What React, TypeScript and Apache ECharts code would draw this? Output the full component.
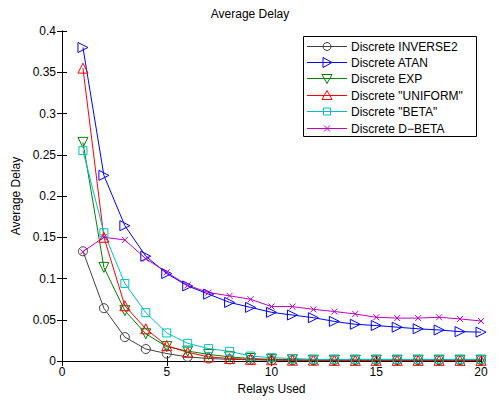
import React, { useEffect, useRef } from "react";
import * as echarts from "echarts";

const relays = [1, 2, 3, 4, 5, 6, 7, 8, 9, 10, 11, 12, 13, 14, 15, 16, 17, 18, 19, 20];
const inverse2 = [0.133, 0.064, 0.029, 0.0145, 0.009, 0.005, 0.003, 0.002, 0.0015, 0.001, 0.001, 0.001, 0.001, 0.001, 0.001, 0.001, 0.001, 0.001, 0.001, 0.001];
const atan = [0.38, 0.225, 0.164, 0.127, 0.106, 0.091, 0.081, 0.071, 0.065, 0.059, 0.0557, 0.0525, 0.048, 0.0445, 0.043, 0.041, 0.039, 0.0376, 0.0356, 0.035];
const expo = [0.265, 0.1135, 0.061, 0.033, 0.0174, 0.012, 0.008, 0.005, 0.003, 0.002, 0.0015, 0.001, 0.001, 0.001, 0.001, 0.001, 0.001, 0.001, 0.001, 0.001];
const uniform = [0.355, 0.15, 0.067, 0.039, 0.0186, 0.0105, 0.005, 0.003, 0.002, 0.0015, 0.001, 0.001, 0.0008, 0.0008, 0.0008, 0.0008, 0.0008, 0.0008, 0.0008, 0.0008];
const beta = [0.255, 0.1555, 0.094, 0.0586, 0.034, 0.0214, 0.015, 0.0117, 0.006, 0.004, 0.003, 0.002, 0.002, 0.002, 0.002, 0.002, 0.002, 0.002, 0.002, 0.002];
const dbeta = [0.1325, 0.15, 0.1467, 0.124, 0.1075, 0.0917, 0.083, 0.079, 0.0748, 0.066, 0.066, 0.0626, 0.06, 0.057, 0.053, 0.052, 0.052, 0.053, 0.051, 0.0485];
const seriesNames = ["Discrete INVERSE2", "Discrete ATAN", "Discrete EXP", 'Discrete "UNIFORM"', 'Discrete "BETA"', "Discrete D−BETA"];
const xTicks = [0, 5, 10, 15, 20];

const FONT = "Liberation Sans";
const xMark = "path://M0,0L10,10M10,0L0,10";

export default function App() {
  const ref = useRef<HTMLDivElement>(null);
  useEffect(() => {
    const chart = echarts.init(ref.current!, null, { renderer: "svg" });
    const specs = [
      { name: seriesNames[0], data: inverse2, color: "#404040", symbol: "circle", rotate: 0, size: 9, kind: "circle" },
      { name: seriesNames[1], data: atan, color: "#0000ff", symbol: "triangle", rotate: -90, size: 10, kind: "right" },
      { name: seriesNames[2], data: expo, color: "#008000", symbol: "triangle", rotate: 180, size: 10, kind: "down" },
      { name: seriesNames[3], data: uniform, color: "#ff0000", symbol: "triangle", rotate: 0, size: 10, kind: "up" },
      { name: seriesNames[4], data: beta, color: "#00bfbf", symbol: "rect", rotate: 0, size: 8, kind: "rect" },
      { name: seriesNames[5], data: dbeta, color: "#bf00bf", symbol: xMark, rotate: 0, size: 6, kind: "x" },
    ];
    const series = specs.map((s) => ({
      name: s.name,
      type: "line",
      data: relays.map((r, i) => [r, s.data[i]]),
      symbol: s.symbol,
      symbolRotate: s.rotate,
      symbolSize: s.size,
      showAllSymbol: true,
      lineStyle: { color: s.color, width: 1 },
      itemStyle: { color: "none", borderColor: s.color, borderWidth: 1 },
      emphasis: { disabled: true },
      z: 3,
    }));

    // hand-drawn MATLAB-style legend
    const lgLeft = 303, lgTop = 36, lgW = 173, lgH = 100;
    const row0 = 45.5, rowStep = 16.4;
    const lx0 = 307, lx1 = 347, sx = 327, tx = 351;
    const legendEls: any[] = [
      {
        type: "rect",
        shape: { x: lgLeft + 0.5, y: lgTop + 0.5, width: lgW, height: lgH },
        style: { fill: "#fff", stroke: "#000", lineWidth: 1 },
        z: 10,
      },
    ];
    specs.forEach((s, i) => {
      const cy = Math.round(row0 + i * rowStep) + 0.5;
      const st = { fill: "none", stroke: s.color, lineWidth: 1 };
      legendEls.push({ type: "line", shape: { x1: lx0, y1: cy, x2: lx1, y2: cy }, style: { stroke: s.color, lineWidth: 1 }, z: 11 });
      let sym: any;
      if (s.kind === "circle") sym = { type: "circle", shape: { cx: sx, cy, r: 4 }, style: st };
      else if (s.kind === "right") sym = { type: "polygon", shape: { points: [[sx - 4, cy - 5], [sx + 5, cy], [sx - 4, cy + 5]] }, style: st };
      else if (s.kind === "down") sym = { type: "polygon", shape: { points: [[sx - 5, cy - 4], [sx + 5, cy - 4], [sx, cy + 5]] }, style: st };
      else if (s.kind === "up") sym = { type: "polygon", shape: { points: [[sx - 5, cy + 4], [sx + 5, cy + 4], [sx, cy - 5]] }, style: st };
      else if (s.kind === "rect") sym = { type: "rect", shape: { x: sx - 3.5, y: cy - 3.5, width: 7, height: 7 }, style: st };
      else sym = {
        type: "group",
        children: [
          { type: "line", shape: { x1: sx - 3, y1: cy - 3, x2: sx + 3, y2: cy + 3 }, style: { stroke: s.color, lineWidth: 1 } },
          { type: "line", shape: { x1: sx - 3, y1: cy + 3, x2: sx + 3, y2: cy - 3 }, style: { stroke: s.color, lineWidth: 1 } },
        ],
      };
      sym.z = 12;
      if (sym.type === "group") sym.children.forEach((c: any) => (c.z = 12));
      legendEls.push(sym);
      legendEls.push({
        type: "text",
        x: tx,
        y: cy,
        style: { text: s.name, fill: "#000", font: `12px "${FONT}"`, verticalAlign: "middle", align: "left" },
        z: 12,
      });
    });

    const axisCommon = {
      axisLine: { show: true, lineStyle: { color: "#000", width: 1 } },
      axisTick: { show: true, inside: true, length: 5, lineStyle: { color: "#000" } },
      splitLine: { show: false },
    };
    chart.setOption({
      animation: false,
      backgroundColor: "#fff",
      title: {
        text: "Average Delay",
        left: "center",
        top: 3,
        textStyle: { fontFamily: FONT, fontSize: 12, fontWeight: "normal", color: "#000" },
      },
      grid: { left: 62, right: 19, top: 31, bottom: 39 },
      graphic: legendEls,
      xAxis: [
        {
          type: "value",
          min: 0,
          max: 20,
          interval: 5,
          name: "Relays Used",
          nameLocation: "middle",
          nameGap: 20,
          nameTextStyle: { fontFamily: FONT, fontSize: 12, color: "#000" },
          axisLabel: {
            fontFamily: FONT,
            fontSize: 12,
            color: "#000",
            margin: 5,
            formatter: (v: number) => (xTicks.includes(v) ? String(v) : ""),
          },
          ...axisCommon,
        },
        {
          type: "value",
          position: "top",
          min: 0,
          max: 20,
          interval: 5,
          axisLabel: { show: false },
          ...axisCommon,
        },
      ],
      yAxis: [
        {
          type: "value",
          min: 0,
          max: 0.4,
          interval: 0.05,
          name: "Average Delay",
          nameLocation: "middle",
          nameGap: 38,
          nameTextStyle: { fontFamily: FONT, fontSize: 12, color: "#000" },
          axisLabel: {
            fontFamily: FONT,
            fontSize: 12,
            color: "#000",
            margin: 6,
            formatter: (v: number) => String(Math.round(v * 100) / 100),
          },
          ...axisCommon,
        },
        {
          type: "value",
          position: "right",
          min: 0,
          max: 0.4,
          interval: 0.05,
          axisLabel: { show: false },
          ...axisCommon,
        },
      ],
      series,
    });
    return () => chart.dispose();
  }, []);
  return <div ref={ref} style={{ width: 500, height: 400, position: "absolute", left: 0, top: 0 }} />;
}
